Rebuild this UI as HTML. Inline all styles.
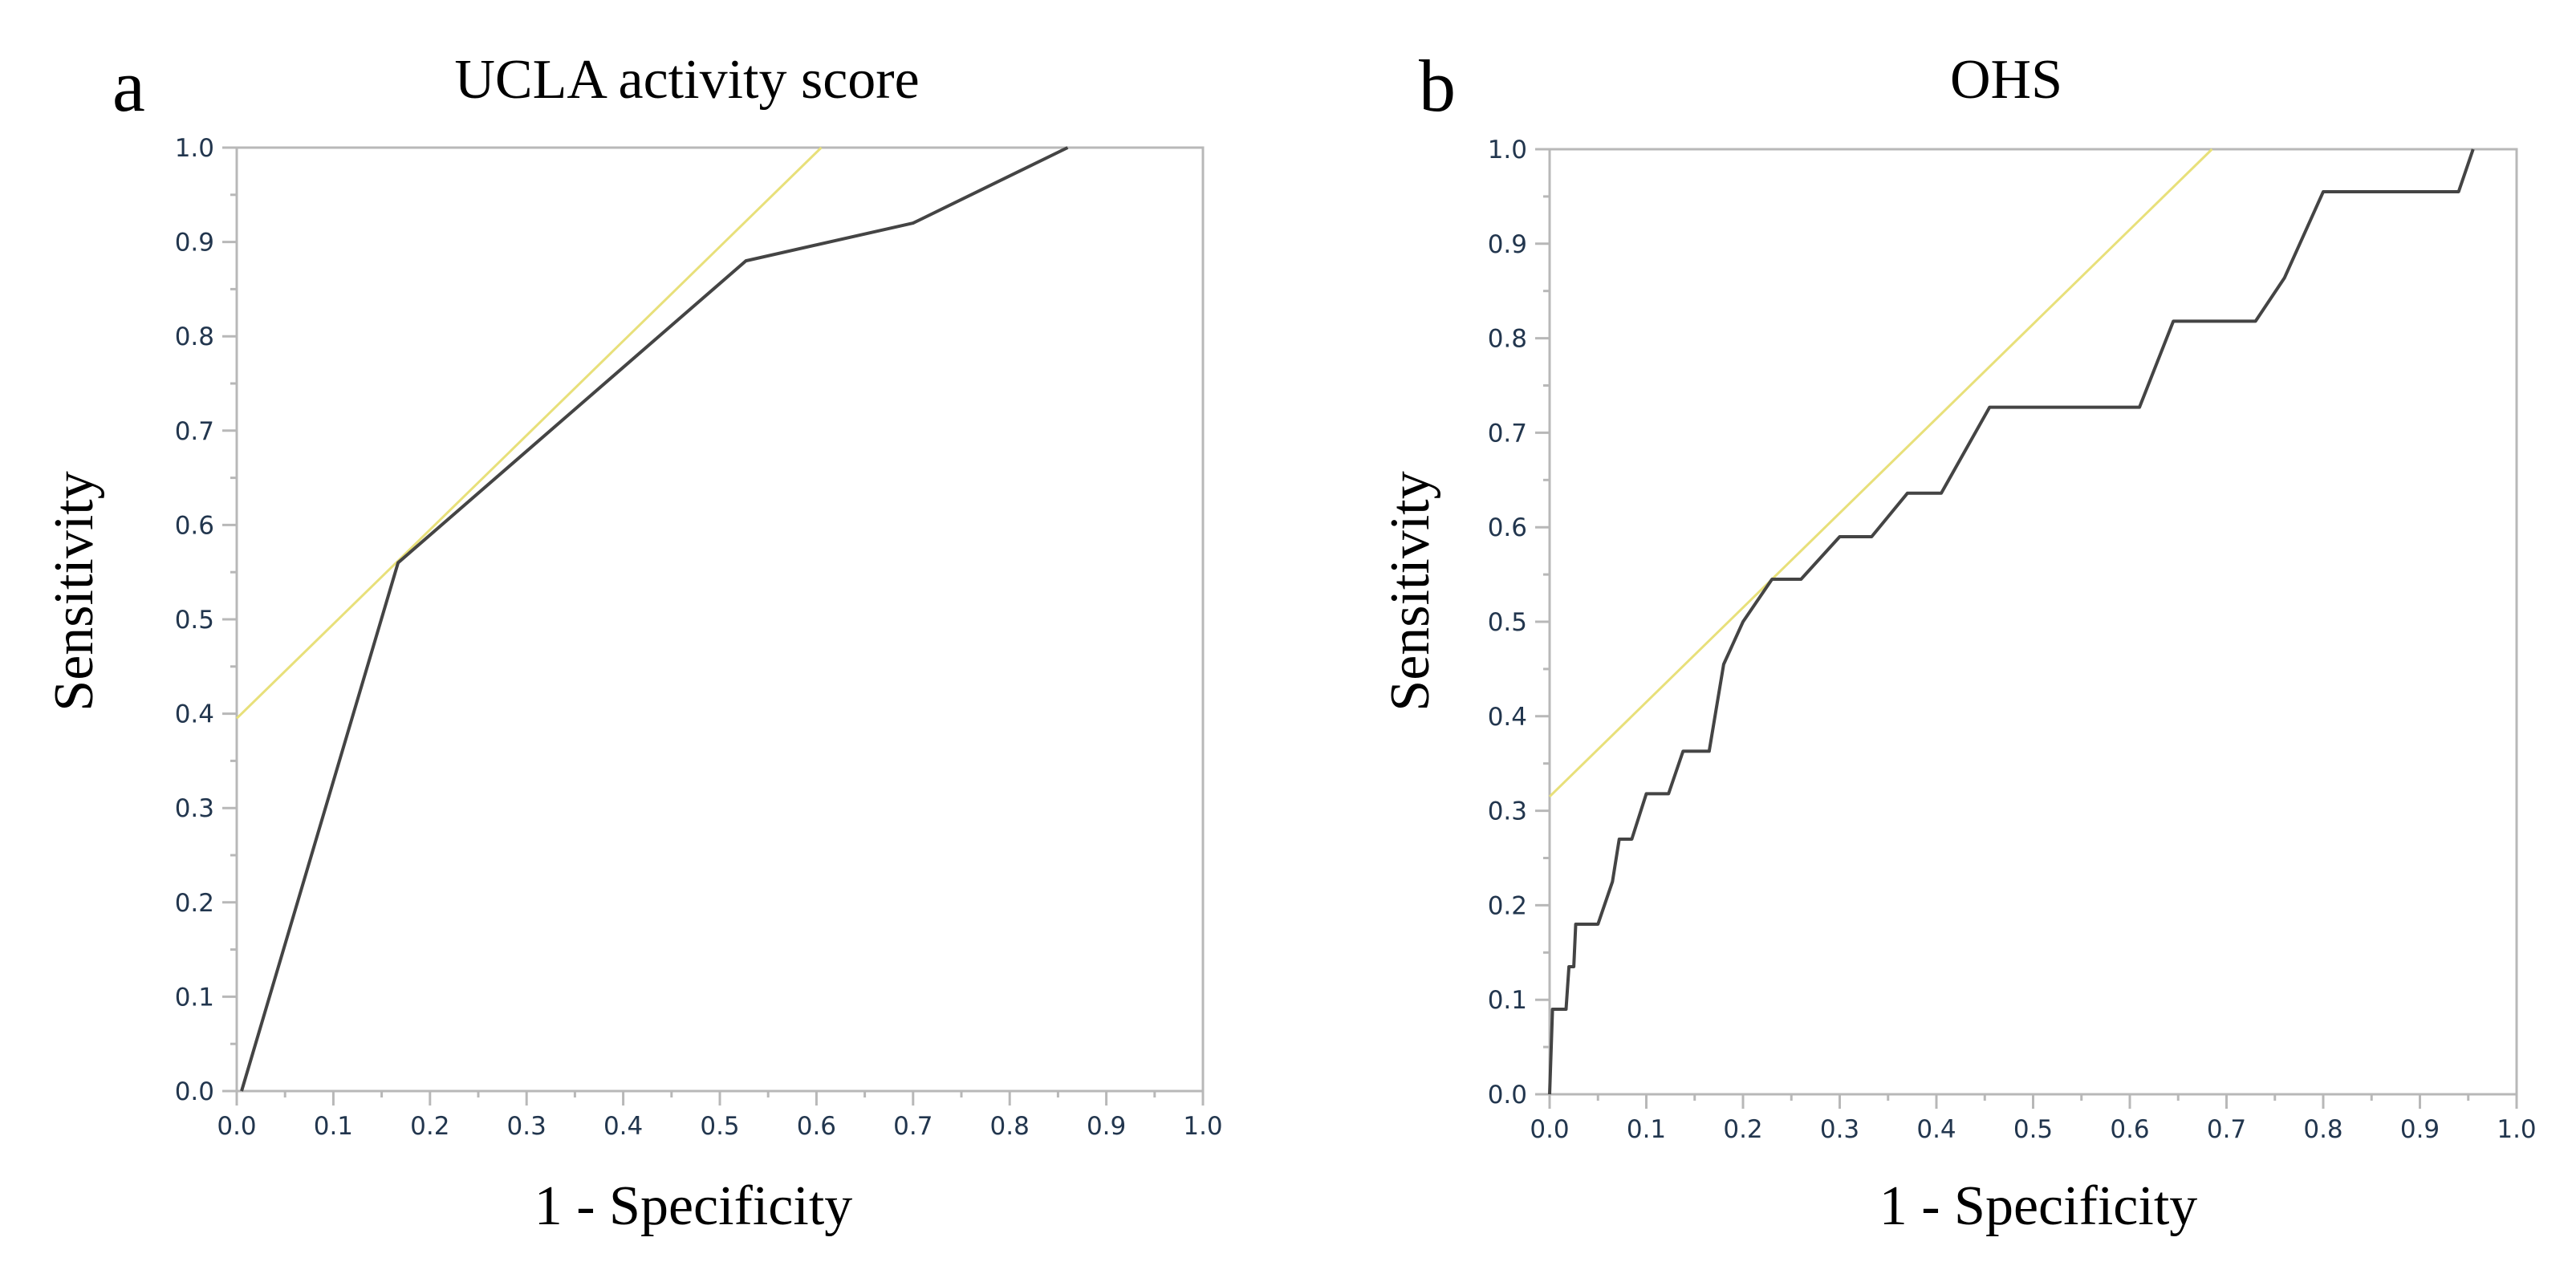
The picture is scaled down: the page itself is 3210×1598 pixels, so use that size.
<!DOCTYPE html>
<html><head><meta charset="utf-8"><style>
html,body{margin:0;padding:0;background:#fff;}
svg{display:block;}
.tick{font-family:"DejaVu Sans","Liberation Sans",sans-serif;font-size:31px;fill:#22364e;}
.ttl{font-family:"Liberation Serif",serif;fill:#000;}
</style></head><body>
<svg id="fig" width="3210" height="1598" viewBox="0 0 3210 1598" xmlns="http://www.w3.org/2000/svg">
<text class="ttl" x="140" y="138" font-size="92">a</text>
<text class="ttl" x="856" y="122" font-size="70" text-anchor="middle">UCLA activity score</text>
<text class="ttl" x="1768" y="138" font-size="92">b</text>
<text class="ttl" x="2500" y="122" font-size="70" text-anchor="middle">OHS</text>
<text class="ttl" x="0" y="0" font-size="70" text-anchor="middle" transform="translate(115,737) rotate(-90)">Sensitivity</text>
<text class="ttl" x="0" y="0" font-size="70" text-anchor="middle" transform="translate(1780,737) rotate(-90)">Sensitivity</text>
<text class="ttl" x="864" y="1526" font-size="70" text-anchor="middle">1 - Specificity</text>
<text class="ttl" x="2540" y="1526" font-size="70" text-anchor="middle">1 - Specificity</text>
<g id="pa"></g>
<g id="pb"></g>
</svg>
<script>
const tickValues = [0,0.1,0.2,0.3,0.4,0.5,0.6,0.7,0.8,0.9,1.0];
const tickLabels = ["0.0","0.1","0.2","0.3","0.4","0.5","0.6","0.7","0.8","0.9","1.0"];
const uclaX = [0.005,0.167,0.527,0.70,0.86];
const uclaY = [0.0,0.56,0.88,0.92,1.0];
const uclaRefX = [0.0,0.605];
const uclaRefY = [0.395,1.0];
const ohsX = [0,0.003,0.017,0.02,0.025,0.027,0.05,0.065,0.072,0.085,0.1,0.123,0.138,0.165,0.18,0.2,0.23,0.26,0.3,0.333,0.37,0.405,0.455,0.61,0.645,0.73,0.76,0.8,0.94,0.955];
const ohsY = [0,0.09,0.09,0.135,0.135,0.18,0.18,0.225,0.27,0.27,0.318,0.318,0.363,0.363,0.455,0.5,0.545,0.545,0.59,0.59,0.636,0.636,0.727,0.727,0.818,0.818,0.864,0.955,0.955,1.0];
const ohsRefX = [0.0,0.685];
const ohsRefY = [0.315,1.0];
const NS="http://www.w3.org/2000/svg";
function mk(tag,attrs,parent){const e=document.createElementNS(NS,tag);for(const k in attrs)e.setAttribute(k,attrs[k]);parent.appendChild(e);return e;}
function panel(g,x0,x1,y0,y1,cx,cy,rx,ry,tag){
  const sx=v=>x0+v*(x1-x0), sy=v=>y0-v*(y0-y1);
  const fr=mk('rect',{x:x0,y:y1,width:x1-x0,height:y0-y1,fill:'none',stroke:'#b8b8b8','stroke-width':3},g);
  
  
  for(let i=0;i<=20;i++){
    const v=i/20, major=i%2===0, L=major?18:8;
    const tx=mk('line',{x1:sx(v),x2:sx(v),y1:y0,y2:y0+L,stroke:'#b8b8b8','stroke-width':3},g);
    
    
    const ty=mk('line',{x1:x0-L,x2:x0,y1:sy(v),y2:sy(v),stroke:'#b8b8b8','stroke-width':3},g);
    
    
  }
  tickValues.forEach((v,i)=>{
    const a=mk('text',{x:sx(v),y:y0+54,'text-anchor':'middle','class':'tick'},g);a.textContent=tickLabels[i];
    
    
    const b=mk('text',{x:x0-28,y:sy(v)+11,'text-anchor':'end','class':'tick'},g);b.textContent=tickLabels[i];
    
    
  });
  const ref=mk('polyline',{points:rx.map((v,i)=>sx(v)+','+sy(ry[i])).join(' '),fill:'none',stroke:'#e8e07a','stroke-width':3},g);
  
  
  const c=mk('polyline',{points:cx.map((v,i)=>sx(v)+','+sy(cy[i])).join(' '),fill:'none',stroke:'#444','stroke-width':4,'stroke-linejoin':'round'},g);
  
  
}
panel(document.getElementById('pa'),295,1499,1360,184,uclaX,uclaY,uclaRefX,uclaRefY,'a');
panel(document.getElementById('pb'),1931,3136,1364,186,ohsX,ohsY,ohsRefX,ohsRefY,'b');
</script>
</body></html>
